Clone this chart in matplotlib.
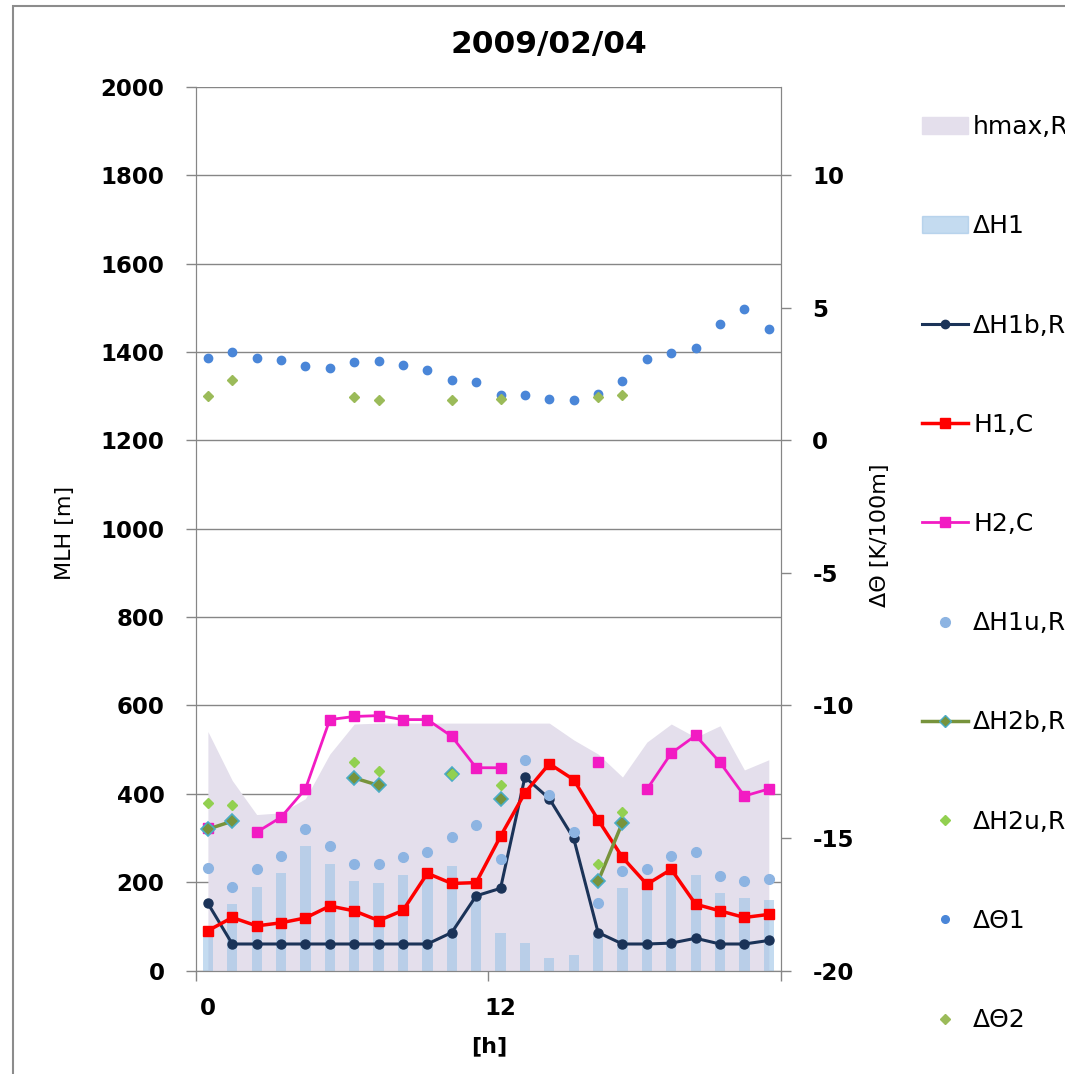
import numpy as np
import matplotlib
matplotlib.use("Agg")
import matplotlib.pyplot as plt
from matplotlib.lines import Line2D
from matplotlib.patches import Patch, Rectangle

plt.rcParams["axes.unicode_minus"] = False

nan = np.nan
hours = np.arange(24)
hour_labels = ["0", "12"]

hmax = [541, 430, 353, 357, 389, 490, 558, 560, 560, 560, 560, 560,
        560, 560, 560, 522, 490, 438, 517, 558, 528, 554, 454, 477]
dh1 = [90, 150, 190, 220, 282, 242, 202, 199, 216, 211, 236, 168,
       86, 63, 28, 35, 86, 186, 197, 216, 216, 176, 163, 159]
dh1b = [152, 60, 60, 60, 60, 60, 60, 60, 60, 60, 86, 169,
        186, 438, 389, 299, 86, 60, 60, 62, 73, 60, 60, 68]
h1c = [90, 120, 101, 108, 119, 146, 135, 113, 136, 220, 197, 199,
       304, 402, 468, 432, 341, 256, 195, 229, 150, 135, 120, 127]
h2c = [323, nan, 313, 347, 411, 568, 575, 577, 568, 568, 530, 459,
       459, nan, nan, nan, 471, nan, 410, 492, 532, 471, 395, 411]
dh1u = [231, 190, 229, 259, 321, 281, 242, 240, 257, 269, 302, 329,
        252, 477, 398, 314, 153, 226, 229, 259, 269, 215, 203, 207]
dh2b = [320, 338, nan, nan, nan, nan, 436, 419, nan, nan, 445, nan,
        389, nan, nan, nan, 202, 335, nan, nan, nan, nan, nan, nan]
dh2u = [380, 374, nan, nan, nan, nan, 472, 451, nan, nan, 445, nan,
        421, nan, nan, nan, 241, 359, nan, nan, nan, nan, nan, nan]
dth1 = [3.09, 3.33, 3.09, 3.02, 2.80, 2.74, 2.94, 2.98, 2.84, 2.67, 2.29, 2.19,
        1.70, 1.70, 1.56, 1.52, 1.76, 2.23, 3.06, 3.30, 3.47, 4.38, 4.97, 4.20]
dth2 = [1.66, 2.29, nan, nan, nan, nan, 1.62, 1.52, nan, nan, 1.52, nan,
        1.55, nan, nan, nan, 1.62, 1.72, nan, nan, nan, nan, nan, nan]

labels = ["hmax,RS", "\u0394H1", "\u0394H1b,RS", "H1,C", "H2,C",
          "\u0394H1u,RS", "\u0394H2b,RS", "\u0394H2u,RS", "\u0394\u03981", "\u0394\u03982"]

# colours
c_area = "#E4DFEC"
c_bar = "#9DC3E6"
c_h1b = "#1B3358"
c_h1c = "#FF0000"
c_h2c = "#F21BC3"
c_h1u = "#8DB4E2"
c_h2b = "#77933C"
c_h2b_edge = "#4BACC6"
c_h2u = "#92D050"
c_th1 = "#4A86D8"
c_th2 = "#9BBB59"
grey = "#868686"

W, H = 1065, 1074
fig = plt.figure(figsize=(W / 100, H / 100), dpi=100)
ax = fig.add_axes([195.7 / W, 1 - 970.5 / H, (781 - 195.7) / W, (970.5 - 87) / H])

ax.fill_between(hours, 0, hmax, color=c_area, lw=0, zorder=1)
ax.bar(hours, dh1, width=0.42, color=c_bar, alpha=0.6, zorder=2)
ax.plot(hours, dh1b, color=c_h1b, lw=2.2, marker="o", ms=6.5, zorder=3)
ax.plot(hours, h1c, color=c_h1c, lw=2.5, marker="s", ms=7.5, zorder=4)
ax.plot(hours, h2c, color=c_h2c, lw=2.0, marker="s", ms=7, zorder=4)
ax.plot(hours, dh1u, ls="none", marker="o", ms=7, color=c_h1u, zorder=5)
ax.plot(hours, dh2b, color=c_h2b, lw=2.5, marker="D", ms=7,
        mfc=c_h2b, mec=c_h2b_edge, mew=1.2, zorder=6)
ax.plot(hours, dh2u, ls="none", marker="D", ms=5, color=c_h2u, zorder=7)

ax.set_xlim(-0.5, 23.5)
ax.set_ylim(0, 2000)
ax.set_yticks(np.arange(0, 2001, 200))
ax.yaxis.grid(True, color=grey, lw=1)
ax.set_axisbelow(True)

ax.set_xticks([0, 12])
ax.set_xticklabels(hour_labels)
ax.set_xticks([-0.5, 11.5, 23.5], minor=True)
ax.tick_params(axis="x", which="major", length=0, pad=19, labelsize=16.5)
ax.tick_params(axis="x", which="minor", length=7, color=grey, width=1)
ax.tick_params(axis="y", length=7.5, color=grey, width=1, pad=15, labelsize=16.5)
plt.setp(ax.get_xticklabels() + ax.get_yticklabels(), fontweight="bold")

for s in ["left", "bottom", "right"]:
    ax.spines[s].set_color(grey)
ax.spines["top"].set_visible(False)

ax2 = ax.twinx()
ax2.plot(hours, dth1, ls="none", marker="o", ms=6, color=c_th1)
ax2.plot(hours, dth2, ls="none", marker="D", ms=5.5, color=c_th2)
ax2.set_ylim(-20, 13.333)
ax2.set_yticks(np.arange(-20, 11, 5))
ax2.tick_params(axis="y", length=7.5, color=grey, width=1, pad=15, labelsize=16.5)
plt.setp(ax2.get_yticklabels(), fontweight="bold")
for s in ["left", "bottom", "right"]:
    ax2.spines[s].set_color(grey)
ax2.spines["top"].set_visible(False)

ax.set_ylabel("MLH [m]", fontsize=16)
ax.yaxis.set_label_coords(-0.223, 0.495)
ax.set_xlabel("[h]", fontsize=16, fontweight="bold")
ax.xaxis.set_label_coords(0.502, -0.0855)
ax.xaxis.label.set_va("center")
ax2.set_ylabel("\u0394\u0398 [K/100m]", fontsize=16, rotation=90)
ax2.yaxis.set_label_coords(1.169, 0.493)
ax.yaxis.label.set_va("center")
ax2.yaxis.label.set_va("center")

fig.text(549 / W, 1 - 44 / H, "2009/02/04", ha="center", va="center",
         fontsize=22.5, fontweight="bold")

handles = [
    Patch(color=c_area),
    Patch(color=c_bar, alpha=0.6),
    Line2D([], [], color=c_h1b, lw=2.2, marker="o", ms=6),
    Line2D([], [], color=c_h1c, lw=2.5, marker="s", ms=7),
    Line2D([], [], color=c_h2c, lw=2.0, marker="s", ms=7),
    Line2D([], [], ls="none", marker="o", ms=7, color=c_h1u),
    Line2D([], [], color=c_h2b, lw=2.5, marker="D", ms=6, mfc=c_h2b, mec=c_h2b_edge),
    Line2D([], [], ls="none", marker="D", ms=5, color=c_h2u),
    Line2D([], [], ls="none", marker="o", ms=5.5, color=c_th1),
    Line2D([], [], ls="none", marker="D", ms=5, color=c_th2),
]
fig.legend(handles, labels, loc="upper left", bbox_to_anchor=(922 / W, 1 - 115 / H),
           frameon=False, fontsize=18, handlelength=1.84, handletextpad=0.2,
           labelspacing=3.01, borderpad=0, borderaxespad=0, numpoints=1)

fig.patches.append(Rectangle((12.7 / W, -0.1), 1.2, 1 - 6 / H + 0.1,
                             transform=fig.transFigure, fill=False,
                             edgecolor="#8C8C8C", lw=1.5))

fig.savefig("out.png", dpi=100)
